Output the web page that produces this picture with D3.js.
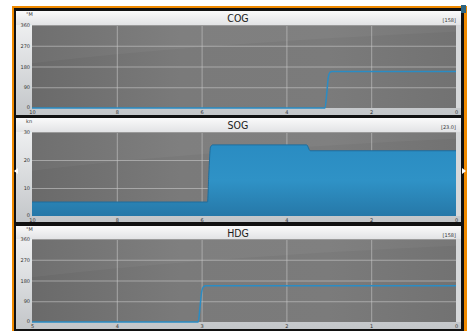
<!DOCTYPE html>
<html>
<head>
<meta charset="utf-8">
<script src="https://cdn.jsdelivr.net/npm/d3@7"></script>
<style>
  body { margin: 0; background: #fff; }
  svg { display: block; }
  .tick text { font-family: "DejaVu Sans", sans-serif; font-size: 5px; fill: #333; }
  .axis path.domain { display: none; }
</style>
</head>
<body>
<div id="chart"></div>
<script>
// Panel titles, units and the last reading shown in brackets
const titles = ["COG", "SOG", "HDG"];
const units = ["\u00B0M", "kn", "\u00B0M"];
const readouts = ["[158]", "[23.0]", "[158]"];

// y ticks per panel
const angleTicks = [0, 90, 180, 270, 360];
const speedTicks = [0, 10, 20, 30];

// x ticks (minutes ago)
const longTicks = [10, 8, 6, 4, 2, 0];
const shortTicks = [5, 4, 3, 2, 1, 0];

// COG series (minutes ago, degrees)
const cogTime = [10, 3.09, 3.05, 3.01, 2.97, 2.93, 0];
const cogValue = [0, 0, 60, 135, 155, 158, 158];

// SOG series (minutes ago, knots)
const sogTime = [10, 5.86, 5.83, 5.79, 5.74, 3.52, 3.44, 0];
const sogValue = [5, 5, 15, 24.6, 25.4, 25.4, 23.3, 23.3];

// HDG series (minutes ago, degrees)
const hdgTime = [5, 3.04, 3.02, 3.0, 2.98, 2.95, 0];
const hdgValue = [0, 0, 60, 130, 152, 157, 157];

const W = 469, H = 331;
const svg = d3.select("#chart").append("svg").attr("width", W).attr("height", H);
const defs = svg.append("defs");

// gradients
function linGrad(id, x2, y2, stops) {
  const g = defs.append("linearGradient").attr("id", id)
    .attr("x1", 0).attr("y1", 0).attr("x2", x2).attr("y2", y2);
  stops.forEach(s => g.append("stop").attr("offset", s[0]).attr("stop-color", s[1]));
}
linGrad("plotGrad", 1, 0, [[0, "#6a6a6a"], [0.35, "#7a7a7a"], [0.7, "#7b7b7b"], [1, "#727272"]]);
linGrad("headGrad", 0, 1, [[0, "#fafafa"], [1, "#e2e3e5"]]);
linGrad("sideGrad", 0, 1, [[0, "#f4f5f6"], [0.5, "#dcdee0"], [1, "#c3c6c9"]]);
linGrad("areaGrad", 0, 1, [[0, "#2a8cc2"], [0.5, "#2f92c6"], [1, "#2678a8"]]);

// frame
svg.append("rect").attr("x", 12).attr("y", 6).attr("width", 455).attr("height", 340).attr("fill", "#f08a00");
svg.append("rect").attr("x", 14).attr("y", 8).attr("width", 450).attr("height", 340).attr("fill", "#111");
svg.append("rect").attr("x", 461).attr("y", 5).attr("width", 5).attr("height", 8).attr("fill", "#2d6480");

const panelX0 = 16, panelX1 = 461;
const plotX0 = 32, plotX1 = 456;
const panels = [
  {top: 11, plotTop: 25, plotBottom: 108, bottom: 115, ticks: angleTicks, max: 360, xt: longTicks, t: cogTime, v: cogValue, area: false},
  {top: 118, plotTop: 132, plotBottom: 216, bottom: 222, ticks: speedTicks, max: 30, xt: longTicks, t: sogTime, v: sogValue, area: true},
  {top: 226, plotTop: 239, plotBottom: 322, bottom: 329, ticks: angleTicks, max: 360, xt: shortTicks, t: hdgTime, v: hdgValue, area: false}
];

panels.forEach(function(p, i) {
  const g = svg.append("g");
  const ph = p.plotBottom - p.plotTop;

  // panel background
  g.append("rect").attr("x", panelX0).attr("y", p.top).attr("width", panelX1 - panelX0)
    .attr("height", p.bottom - p.top).attr("fill", "url(#sideGrad)");
  g.append("rect").attr("x", panelX0).attr("y", p.top).attr("width", panelX1 - panelX0)
    .attr("height", p.plotTop - p.top).attr("fill", "url(#headGrad)");

  const x = d3.scaleLinear().domain([p.xt[0], 0]).range([plotX0, plotX1]);
  const y = d3.scaleLinear().domain([0, p.max]).range([p.plotBottom, p.plotTop]);

  // plot area
  g.append("rect").attr("x", plotX0).attr("y", p.plotTop).attr("width", plotX1 - plotX0)
    .attr("height", ph).attr("fill", "url(#plotGrad)");
  // lighter swoosh in the upper part
  g.append("path")
    .attr("d", `M${plotX0},${p.plotTop} L${plotX0},${p.plotTop + ph * 0.46} Q${plotX0 + 170},${p.plotTop + ph * 0.22} ${plotX1},${p.plotTop + ph * 0.08} L${plotX1},${p.plotTop} Z`)
    .attr("fill", "#fff").attr("opacity", 0.04);
  // light strip right of plot
  g.append("rect").attr("x", plotX1).attr("y", p.plotTop).attr("width", panelX1 - plotX1)
    .attr("height", ph).attr("fill", "#d6d8da");

  // grid
  g.append("g").attr("class", "grid")
    .attr("transform", `translate(0,${p.plotBottom})`)
    .call(d3.axisBottom(x).tickValues(p.xt.slice(1, -1)).tickSize(-ph).tickFormat(""))
    .call(s => s.select(".domain").remove())
    .selectAll("line").attr("stroke", "#c8c8c8").attr("stroke-opacity", 0.6);
  g.append("g").attr("class", "grid")
    .attr("transform", `translate(${plotX0},0)`)
    .call(d3.axisLeft(y).tickValues(p.ticks.slice(1, -1)).tickSize(-(plotX1 - plotX0)).tickFormat(""))
    .call(s => s.select(".domain").remove())
    .selectAll("line").attr("stroke", "#c8c8c8").attr("stroke-opacity", 0.6);
  g.append("line").attr("x1", plotX0).attr("x2", plotX1).attr("y1", p.plotTop + 0.5).attr("y2", p.plotTop + 0.5)
    .attr("stroke", "#9a9a9a");

  // data
  const pts = p.t.map((t, k) => [t, p.v[k]]);
  if (p.area) {
    const area = d3.area().x(d => x(d[0])).y0(y(0)).y1(d => y(d[1])).curve(d3.curveMonotoneX);
    g.append("path").datum(pts).attr("d", area).attr("fill", "url(#areaGrad)");
  }
  const line = d3.line().x(d => x(d[0])).y(d => y(d[1])).curve(d3.curveMonotoneX);
  g.append("path").datum(pts).attr("d", line).attr("fill", "none")
    .attr("stroke", p.area ? "#1f6d9c" : "#2a8cc4").attr("stroke-width", p.area ? 1 : 1.5);

  // axes labels
  g.append("g").attr("class", "axis")
    .attr("transform", `translate(${plotX0},0)`)
    .call(d3.axisLeft(y).tickValues(p.ticks).tickSize(0).tickPadding(2).tickFormat(d3.format("d")))
    .selectAll(".tick text").attr("dy", (d) => d === 0 ? "0.1em" : "0.32em");
  g.append("g").attr("class", "axis")
    .attr("transform", `translate(0,${p.plotBottom})`)
    .call(d3.axisBottom(x).tickValues(p.xt).tickSize(0).tickPadding(2.5).tickFormat(d3.format("d")));

  // title, unit, readout
  g.append("text").attr("x", 238).attr("y", p.top + 10.5).attr("text-anchor", "middle")
    .attr("font-family", "DejaVu Sans Condensed, DejaVu Sans, sans-serif").attr("font-size", 10.5)
    .attr("fill", "#1a1a1a").text(titles[i]);
  g.append("text").attr("x", 26).attr("y", p.top + 5).attr("font-family", "DejaVu Sans, sans-serif")
    .attr("font-size", 5).attr("fill", "#333").text(units[i]);
  g.append("text").attr("x", plotX1).attr("y", p.top + 11).attr("text-anchor", "end")
    .attr("font-family", "DejaVu Sans, sans-serif").attr("font-size", 5).attr("fill", "#333").text(readouts[i]);
});

// side arrows
svg.append("path").attr("d", "M14,171 L18,168 L18,174 Z").attr("fill", "#fff");
svg.append("path").attr("d", "M466,171 L462,168 L462,174 Z").attr("fill", "#fff");
</script>
</body>
</html>
